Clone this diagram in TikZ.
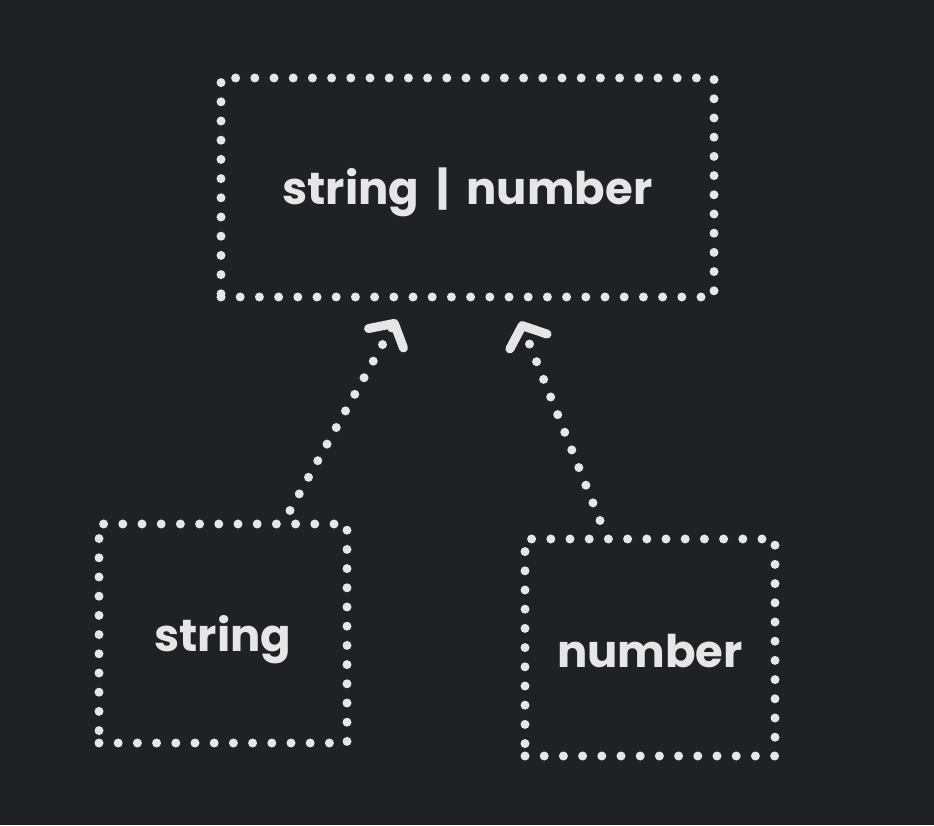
\documentclass[tikz,border=0pt]{standalone}
\usepackage{fontspec}
\setmainfont{Poppins}
\usetikzlibrary{arrows.meta,calc}
\definecolor{bg}{HTML}{202124}
\definecolor{fg}{HTML}{E6E6E6}
\tikzset{
  dotbox/.style={draw=fg, line width=9pt, line cap=round, dash pattern=on 0pt off 19.2pt, text=fg, font=\fontsize{45}{50}\selectfont\bfseries, inner sep=0pt},
  dotarrow/.style={draw=fg, line width=9pt, line cap=round, dash pattern=on 0pt off 19pt, -{Straight Barb[length=17pt,width=40pt,line width=9pt,round]}},
}
\begin{document}
\begin{tikzpicture}[x=1pt,y=1pt]
\fill[bg] (0,0) rectangle (934,825);
\useasboundingbox (0,0) rectangle (934,825);
\node[dotbox, minimum width=493pt, minimum height=219pt, text height=44pt, text depth=9pt] (t) at (467.5,637.5) {string \,|\, number};
\node[dotbox, minimum width=248pt, minimum height=219pt, text height=44pt, text depth=9pt] (s) at (223,191.5) {string};
\node[dotbox, minimum width=250pt, minimum height=217pt, text height=39pt, text depth=0pt] (n) at (650,177.5) {number};
\draw[dotarrow] ($(s.north)+(67,9)$) -- ($(t.south)+(-71,-18)$);
\draw[dotarrow] ($(n.north)+(-50,14)$) -- ($(t.south)+(53,-20)$);
\end{tikzpicture}
\end{document}
